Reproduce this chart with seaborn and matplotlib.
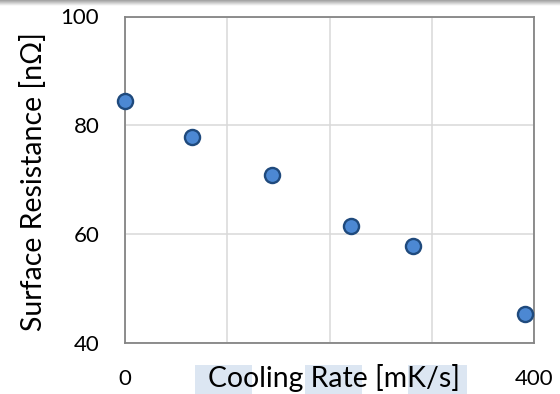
import numpy as np
import pandas as pd
import matplotlib
matplotlib.use("Agg")
import matplotlib.pyplot as plt
import seaborn as sns
from matplotlib.patches import Rectangle

# Data
cooling_rate = [0, 66, 144, 221, 282, 391]
surface_resistance = [84.4, 77.9, 70.9, 61.5, 57.9, 45.4]
x_ticks = [0, 100, 200, 300, 400]
x_tick_labels = ["0", "", "", "", "400"]
y_ticks = [40, 60, 80, 100]
y_tick_labels = ["40", "60", "80", "100"]
x_label = "Cooling Rate [mK/s]"
y_label = "Surface Resistance [nΩ]"

df = pd.DataFrame({"rate": cooling_rate, "rs": surface_resistance})

sns.set_theme(style="white")
plt.rcParams["font.family"] = ["Lato", "DejaVu Sans"]

W, H = 560, 394
fig = plt.figure(figsize=(W / 100, H / 100), dpi=100)
fig.patch.set_facecolor("white")

def fx(px):
    return px / W

def fy(py):
    return 1 - py / H

ax = fig.add_axes([fx(125), fy(343), fx(534) - fx(125), fy(16.5) - fy(343)])

sns.scatterplot(data=df, x="rate", y="rs", ax=ax, s=118, color="#4C88D3",
                edgecolor="#1F4A7D", linewidth=1.7, zorder=3, clip_on=False)

ax.set_xlim(0, 400)
ax.set_ylim(40, 100)
ax.set_xticks(x_ticks)
ax.set_xticklabels(x_tick_labels)
ax.set_yticks(y_ticks)
ax.set_yticklabels(y_tick_labels)
ax.tick_params(axis="both", length=0, labelsize=16, colors="black")
ax.tick_params(axis="x", pad=18.5)
ax.tick_params(axis="y", pad=18.5)
ax.grid(True, color="#D9D9D9", linewidth=1.1, zorder=0)
ax.set_axisbelow(True)
for sp in ax.spines.values():
    sp.set_visible(True)
    sp.set_color("#858585")
    sp.set_linewidth(1.3)

xl = ax.set_xlabel(x_label, fontsize=20, color="black")
yl = ax.set_ylabel(y_label, fontsize=22, color="black")
xl.set_va("baseline")
xl.set_ha("center")
yl.set_va("center")
yl.set_ha("center")
ax.xaxis.set_label_coords(0.511, (343 - 387) / 326.5)
ax.yaxis.set_label_coords(-0.2225, 0.493)

# fit label sizes to the reference extents
fig.canvas.draw()
r = fig.canvas.get_renderer()
for _ in range(2):
    wx = xl.get_window_extent(r).width
    xl.set_fontsize(xl.get_fontsize() * 252 / wx)
    hy = yl.get_window_extent(r).height
    yl.set_fontsize(yl.get_fontsize() * 300 / hy)
    fig.canvas.draw()

# light highlight boxes behind the axis label
for x0, x1 in [(195, 252), (305, 362), (408, 467)]:
    fig.patches.append(Rectangle((fx(x0), 0), fx(x1) - fx(x0), fy(365), transform=fig.transFigure,
                                 facecolor="#DCE6F2", edgecolor="none", zorder=-1))

# top shadow gradient
gax = fig.add_axes([0, fy(6), 1, fy(0) - fy(6)], zorder=-2)
grad = np.linspace(0.62, 1.0, 32).reshape(-1, 1)
gax.imshow(grad, cmap="gray", vmin=0, vmax=1, aspect="auto", extent=[0, 1, 0, 1], origin="upper")
gax.axis("off")

fig.savefig("out.png", dpi=100, facecolor="white")
